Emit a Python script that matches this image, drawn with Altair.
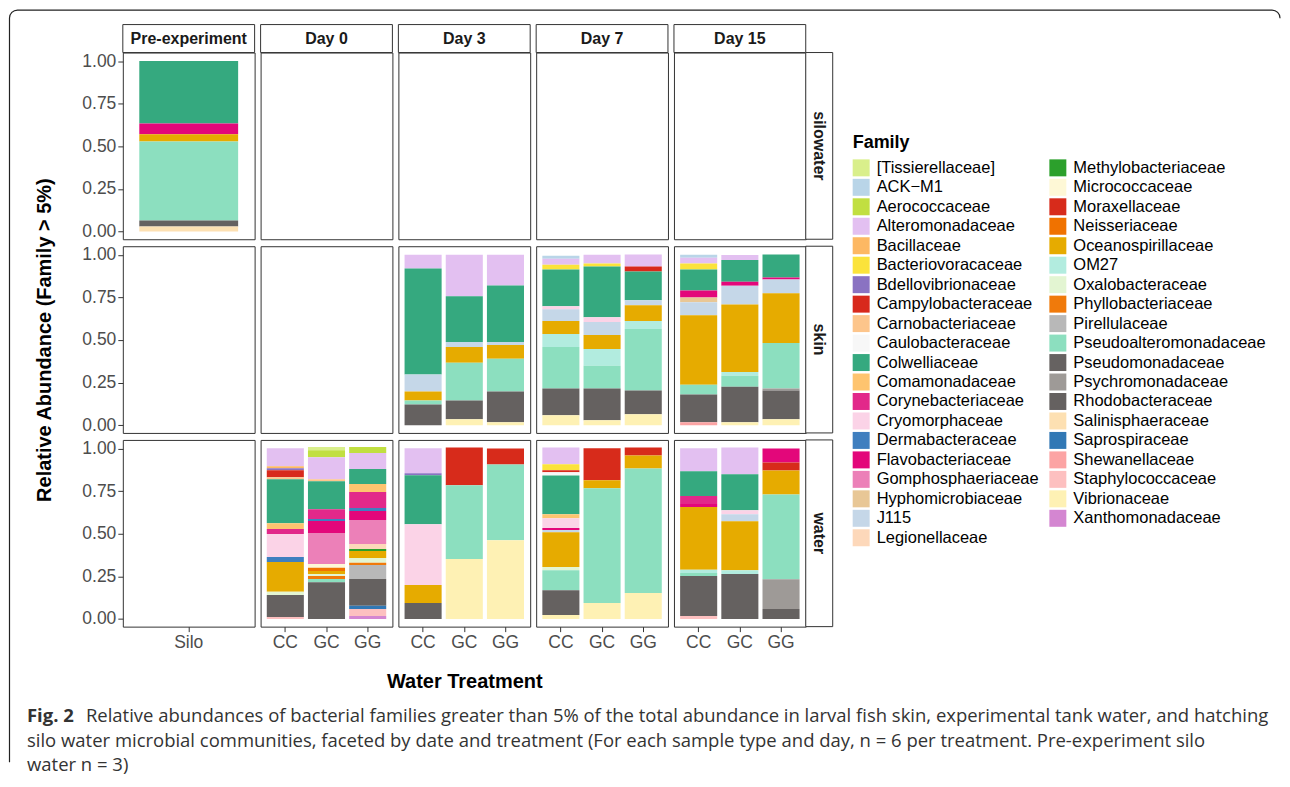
import altair as alt
import pandas as pd

# ---------------- data ----------------
FAMILIES = [
    "[Tissierellaceae]", "ACK−M1", "Aerococcaceae", "Alteromonadaceae", "Bacillaceae",
    "Bacteriovoracaceae", "Bdellovibrionaceae", "Campylobacteraceae", "Carnobacteriaceae",
    "Caulobacteraceae", "Colwelliaceae", "Comamonadaceae", "Corynebacteriaceae",
    "Cryomorphaceae", "Dermabacteraceae", "Flavobacteriaceae", "Gomphosphaeriaceae",
    "Hyphomicrobiaceae", "J115", "Legionellaceae",
    "Methylobacteriaceae", "Micrococcaceae", "Moraxellaceae", "Neisseriaceae",
    "Oceanospirillaceae", "OM27", "Oxalobacteraceae", "Phyllobacteriaceae", "Pirellulaceae",
    "Pseudoalteromonadaceae", "Pseudomonadaceae", "Psychromonadaceae", "Rhodobacteraceae",
    "Salinisphaeraceae", "Saprospiraceae", "Shewanellaceae", "Staphylococcaceae",
    "Vibrionaceae", "Xanthomonadaceae",
]
FAMILY_COLORS = [
    "#d9ef8b", "#b9d5e8", "#c1df41", "#e3c0f1", "#fdb863",
    "#fbe33b", "#8a72c2", "#d8291c", "#fdc58b",
    "#f7f7f7", "#35a97f", "#fec46f", "#e2288a",
    "#fbd3e7", "#3f7fbf", "#e3077a", "#ec80b8",
    "#e8c796", "#c5d7e8", "#fdd8ba",
    "#2ca02c", "#fef8d6", "#d72b1b", "#f07200",
    "#e6ab00", "#b2ecdf", "#e3f5d2", "#f07a0b", "#b8b8b8",
    "#8cdfbf", "#666261", "#9e9a97", "#656160",
    "#fde0b2", "#3178b5", "#fca4a4", "#fdc0c0",
    "#fef1b4", "#d486d1",
]
ROW_TYPES = ["silowater", "skin", "water"]
DAYS = ["Pre-experiment", "Day 0", "Day 3", "Day 7", "Day 15"]
TREAT_PRE = ["Silo"]
TREAT_EXP = ["CC", "GC", "GG"]
Y_TICKS = [0.0, 0.25, 0.5, 0.75, 1.0]

SILO_PRE = [("Colwelliaceae", 0.366), ("Flavobacteriaceae", 0.063), ("Oceanospirillaceae", 0.043),
            ("Pseudoalteromonadaceae", 0.463), ("Rhodobacteraceae", 0.036), ("Salinisphaeraceae", 0.029)]

SKIN_D3_CC = [("Alteromonadaceae", 0.081), ("Colwelliaceae", 0.622), ("J115", 0.099),
              ("Oceanospirillaceae", 0.053), ("Pseudoalteromonadaceae", 0.023), ("Rhodobacteraceae", 0.122)]
SKIN_D3_GC = [("Alteromonadaceae", 0.244), ("Colwelliaceae", 0.268), ("J115", 0.029),
              ("Oceanospirillaceae", 0.093), ("Pseudoalteromonadaceae", 0.221), ("Rhodobacteraceae", 0.110),
              ("Vibrionaceae", 0.035)]
SKIN_D3_GG = [("Alteromonadaceae", 0.180), ("Colwelliaceae", 0.332), ("J115", 0.017),
              ("Oceanospirillaceae", 0.081), ("Pseudoalteromonadaceae", 0.192), ("Rhodobacteraceae", 0.181),
              ("Vibrionaceae", 0.017)]
SKIN_D7_CC = [("ACK−M1", 0.017), ("Alteromonadaceae", 0.035), ("Bacteriovoracaceae", 0.029),
              ("Colwelliaceae", 0.215), ("Cryomorphaceae", 0.017), ("J115", 0.070),
              ("Oceanospirillaceae", 0.076), ("OM27", 0.076), ("Pseudoalteromonadaceae", 0.244),
              ("Rhodobacteraceae", 0.157), ("Vibrionaceae", 0.058)]
SKIN_D7_GC = [("Alteromonadaceae", 0.052), ("Bacteriovoracaceae", 0.017), ("Colwelliaceae", 0.297),
              ("Cryomorphaceae", 0.029), ("J115", 0.076), ("Oceanospirillaceae", 0.081), ("OM27", 0.099),
              ("Pseudoalteromonadaceae", 0.134), ("Rhodobacteraceae", 0.186), ("Vibrionaceae", 0.029)]
SKIN_D7_GG = [("Alteromonadaceae", 0.070), ("Campylobacteraceae", 0.029), ("Colwelliaceae", 0.169),
              ("J115", 0.029), ("Oceanospirillaceae", 0.093), ("OM27", 0.047),
              ("Pseudoalteromonadaceae", 0.360), ("Rhodobacteraceae", 0.140), ("Vibrionaceae", 0.064)]
SKIN_D15_CC = [("ACK−M1", 0.017), ("Alteromonadaceae", 0.035), ("Bacteriovoracaceae", 0.035),
               ("Colwelliaceae", 0.122), ("Flavobacteriaceae", 0.041), ("Hyphomicrobiaceae", 0.029),
               ("J115", 0.076), ("Oceanospirillaceae", 0.407), ("Pseudoalteromonadaceae", 0.058),
               ("Rhodobacteraceae", 0.163), ("Shewanellaceae", 0.017)]
SKIN_D15_GC = [("Alteromonadaceae", 0.029), ("Colwelliaceae", 0.128), ("Flavobacteriaceae", 0.023),
               ("J115", 0.110), ("Oceanospirillaceae", 0.395), ("OM27", 0.023),
               ("Pseudoalteromonadaceae", 0.064), ("Rhodobacteraceae", 0.209), ("Vibrionaceae", 0.017)]
SKIN_D15_GG = [("Colwelliaceae", 0.134), ("Flavobacteriaceae", 0.012), ("J115", 0.081),
               ("Oceanospirillaceae", 0.291), ("Pseudoalteromonadaceae", 0.267), ("Psychromonadaceae", 0.012),
               ("Rhodobacteraceae", 0.169), ("Vibrionaceae", 0.035)]

WATER_D0_CC = [("Alteromonadaceae", 0.105), ("Bacillaceae", 0.012), ("Bdellovibrionaceae", 0.012),
               ("Campylobacteraceae", 0.041), ("Carnobacteriaceae", 0.012), ("Colwelliaceae", 0.257),
               ("Comamonadaceae", 0.035), ("Corynebacteriaceae", 0.029), ("Cryomorphaceae", 0.135),
               ("Dermabacteraceae", 0.029), ("Oceanospirillaceae", 0.175), ("Oxalobacteraceae", 0.018),
               ("Rhodobacteraceae", 0.129), ("Staphylococcaceae", 0.012)]
WATER_D0_GC = [("[Tissierellaceae]", 0.018), ("Aerococcaceae", 0.041), ("Alteromonadaceae", 0.129),
               ("Carnobacteriaceae", 0.012), ("Colwelliaceae", 0.164), ("Corynebacteriaceae", 0.058),
               ("Dermabacteraceae", 0.012), ("Flavobacteriaceae", 0.070), ("Gomphosphaeriaceae", 0.181),
               ("Micrococcaceae", 0.023), ("Neisseriaceae", 0.018), ("Oceanospirillaceae", 0.018),
               ("Oxalobacteraceae", 0.012), ("Phyllobacteriaceae", 0.018), ("Pseudoalteromonadaceae", 0.018),
               ("Rhodobacteraceae", 0.216)]
WATER_D0_GG = [("Aerococcaceae", 0.035), ("Alteromonadaceae", 0.094), ("Colwelliaceae", 0.088),
               ("Comamonadaceae", 0.047), ("Corynebacteriaceae", 0.094), ("Dermabacteraceae", 0.018),
               ("Flavobacteriaceae", 0.053), ("Gomphosphaeriaceae", 0.140), ("Legionellaceae", 0.029),
               ("Methylobacteriaceae", 0.012), ("Oceanospirillaceae", 0.041), ("Oxalobacteraceae", 0.029),
               ("Phyllobacteriaceae", 0.012), ("Pirellulaceae", 0.082), ("Rhodobacteraceae", 0.158),
               ("Saprospiraceae", 0.018), ("Staphylococcaceae", 0.041), ("Xanthomonadaceae", 0.018)]
WATER_D3_CC = [("Alteromonadaceae", 0.146), ("Bdellovibrionaceae", 0.012), ("Colwelliaceae", 0.287),
               ("Cryomorphaceae", 0.357), ("Oceanospirillaceae", 0.105), ("Rhodobacteraceae", 0.094)]
WATER_D3_GC = [("Moraxellaceae", 0.222), ("Pseudoalteromonadaceae", 0.433), ("Vibrionaceae", 0.351)]
WATER_D3_GG = [("Moraxellaceae", 0.094), ("Pseudoalteromonadaceae", 0.444), ("Vibrionaceae", 0.462)]
WATER_D7_CC = [("Alteromonadaceae", 0.099), ("Bacteriovoracaceae", 0.035), ("Campylobacteraceae", 0.012),
               ("Caulobacteraceae", 0.018), ("Colwelliaceae", 0.228), ("Comamonadaceae", 0.023),
               ("Cryomorphaceae", 0.058), ("Flavobacteriaceae", 0.012), ("J115", 0.012),
               ("Oceanospirillaceae", 0.205), ("Oxalobacteraceae", 0.018), ("Pseudoalteromonadaceae", 0.117),
               ("Rhodobacteraceae", 0.146), ("Vibrionaceae", 0.023)]
WATER_D7_GC = [("Moraxellaceae", 0.187), ("Oceanospirillaceae", 0.047), ("Pseudoalteromonadaceae", 0.673),
               ("Vibrionaceae", 0.094)]
WATER_D7_GG = [("Moraxellaceae", 0.047), ("Oceanospirillaceae", 0.076), ("Pseudoalteromonadaceae", 0.731),
               ("Vibrionaceae", 0.152)]
WATER_D15_CC = [("Alteromonadaceae", 0.134), ("Colwelliaceae", 0.146), ("Corynebacteriaceae", 0.047),
                ("Flavobacteriaceae", 0.018), ("Oceanospirillaceae", 0.368), ("OM27", 0.018),
                ("Pseudoalteromonadaceae", 0.018), ("Rhodobacteraceae", 0.234), ("Staphylococcaceae", 0.018)]
WATER_D15_GC = [("Alteromonadaceae", 0.158), ("Colwelliaceae", 0.211), ("Cryomorphaceae", 0.023),
                ("J115", 0.041), ("Oceanospirillaceae", 0.287), ("OM27", 0.023), ("Rhodobacteraceae", 0.263)]
WATER_D15_GG = [("Flavobacteriaceae", 0.082), ("Moraxellaceae", 0.047), ("Oceanospirillaceae", 0.140),
                ("Pseudoalteromonadaceae", 0.497), ("Psychromonadaceae", 0.175), ("Rhodobacteraceae", 0.058)]

BARS = [
    ("silowater", "Pre-experiment", "Silo", SILO_PRE),
    ("skin", "Day 3", "CC", SKIN_D3_CC), ("skin", "Day 3", "GC", SKIN_D3_GC), ("skin", "Day 3", "GG", SKIN_D3_GG),
    ("skin", "Day 7", "CC", SKIN_D7_CC), ("skin", "Day 7", "GC", SKIN_D7_GC), ("skin", "Day 7", "GG", SKIN_D7_GG),
    ("skin", "Day 15", "CC", SKIN_D15_CC), ("skin", "Day 15", "GC", SKIN_D15_GC), ("skin", "Day 15", "GG", SKIN_D15_GG),
    ("water", "Day 0", "CC", WATER_D0_CC), ("water", "Day 0", "GC", WATER_D0_GC), ("water", "Day 0", "GG", WATER_D0_GG),
    ("water", "Day 3", "CC", WATER_D3_CC), ("water", "Day 3", "GC", WATER_D3_GC), ("water", "Day 3", "GG", WATER_D3_GG),
    ("water", "Day 7", "CC", WATER_D7_CC), ("water", "Day 7", "GC", WATER_D7_GC), ("water", "Day 7", "GG", WATER_D7_GG),
    ("water", "Day 15", "CC", WATER_D15_CC), ("water", "Day 15", "GC", WATER_D15_GC), ("water", "Day 15", "GG", WATER_D15_GG),
]

CAPTION_BOLD = "Fig. 2"
CAPTION_LINE1 = ("Relative abundances of bacterial families greater than 5% of the total abundance in larval fish "
                 "skin, experimental tank water, and hatching")
CAPTION_LINE2 = ("silo water microbial communities, faceted by date and treatment (For each sample type and day, "
                 "n = 6 per treatment. Pre-experiment silo")
CAPTION_LINE3 = "water n = 3)"

# ---------------- table ----------------
rows = []
for t, d, trt, segs in BARS:
    for fam, v in segs:
        rows.append({"type": t, "day": d, "trt": trt, "family": fam, "value": v,
                     "order": FAMILIES.index(fam)})
df = pd.DataFrame(rows)

FONT = "Liberation Sans"
CAP_FONT = "Open Sans"
CAP_SIZE = 18.5
PW, PH = 132, 187
SH, RW = 28, 27
GAP_R, GAP_C = 7, 6
Y_DOMAIN = [-0.045, 1.05]

COLOR_SCALE = alt.Scale(domain=FAMILIES, range=FAMILY_COLORS)
LEGEND = alt.Legend(
    title="Family", orient="none", legendX=731, legendY=82, columns=2, symbolLimit=0,
    symbolType="square", symbolSize=289, symbolStrokeWidth=0, symbolOpacity=1,
    labelFont=FONT, labelFontSize=16.5, labelColor="black", labelLimit=400, labelOffset=7,
    titleFont=FONT, titleFontSize=18, titleFontWeight="bold", titleColor="black", titlePadding=7,
    rowPadding=2.5, columnPadding=10, padding=0, offset=0,
)


def cell(r, c):
    t, d = ROW_TYPES[r], DAYS[c]
    dom = TREAT_PRE if c == 0 else TREAT_EXP
    sub = df[(df["type"] == t) & (df["day"] == d)]
    if r == 2:
        xaxis = alt.Axis(labelAngle=0, labelFont=FONT, labelFontSize=17.5, labelColor="#4d4d4d",
                         tickSize=5, tickColor="#333333", labelPadding=2, domain=False,
                         title=("Water Treatment" if c == 2 else None), titleFont=FONT,
                         titleFontSize=20, titleFontWeight="bold", titleColor="black", titlePadding=20)
    else:
        xaxis = None
    if c == 0:
        yaxis = alt.Axis(values=Y_TICKS, format=".2f", labelFont=FONT, labelFontSize=17.5,
                         labelColor="#4d4d4d", tickSize=5, tickColor="#333333", labelPadding=2,
                         domain=False, grid=False,
                         title=("Relative Abundance (Family > 5%)" if r == 1 else None),
                         titleFont=FONT, titleFontSize=20, titleFontWeight="bold",
                         titleColor="black", titlePadding=27)
    else:
        yaxis = None
    bars = alt.Chart(sub).mark_bar().encode(
        x=alt.X("trt:N", scale=alt.Scale(domain=dom, paddingInner=0.1, paddingOuter=0.15), axis=xaxis),
        y=alt.Y("value:Q", stack="zero", scale=alt.Scale(domain=Y_DOMAIN, nice=False, zero=False), axis=yaxis),
        color=alt.Color("family:N", scale=COLOR_SCALE, legend=LEGEND),
        order=alt.Order("order:Q", sort="descending"),
    )
    layers = [bars]
    if r == 0:
        sd = pd.DataFrame({"lab": [d]})
        layers.append(alt.Chart(sd).mark_rect(fill="white", stroke="#333333", strokeWidth=1).encode(
            x=alt.value(0), x2=alt.value(PW), y=alt.value(-SH), y2=alt.value(0)))
        layers.append(alt.Chart(sd).mark_text(font=FONT, fontSize=16, fontWeight="bold", color="#1a1a1a",
                                             baseline="middle").encode(
            text="lab:N", x=alt.value(PW / 2), y=alt.value(-SH / 2)))
    if c == 4:
        rd = pd.DataFrame({"lab": [t]})
        layers.append(alt.Chart(rd).mark_rect(fill="white", stroke="#333333", strokeWidth=1).encode(
            x=alt.value(PW), x2=alt.value(PW + RW), y=alt.value(0), y2=alt.value(PH)))
        layers.append(alt.Chart(rd).mark_text(font=FONT, fontSize=16, fontWeight="bold", color="#1a1a1a",
                                             angle=90, baseline="middle").encode(
            text="lab:N", x=alt.value(PW + RW / 2), y=alt.value(PH / 2)))
    if r == 2 and c == 0:
        # this cell sits two rows below the grid origin
        oy = 2 * (PH + GAP_R)
        # outer rounded frame (only top and left edges visible) and the caption
        fx, fy, fx2, fy2, rad = -113.5, -42.5 - oy, 1159, 719 - oy, 8
        W, H = fx2 - fx, fy2 - fy
        q = 1.5708 * rad
        dash = [W - 2 * rad + q, (H - 2 * rad + q) + (W - 2 * rad + q), H - 2 * rad + q + 40]
        fd = pd.DataFrame({"k": [0]})
        layers.append(alt.Chart(fd).mark_rect(fill="transparent", stroke="#222222", strokeWidth=1.2,
                                             cornerRadius=rad, strokeDash=dash).encode(
            x=alt.value(fx), x2=alt.value(fx2), y=alt.value(fy), y2=alt.value(fy2)))
        cap = [(CAPTION_BOLD, -96, 665 - oy, "bold"), (CAPTION_LINE1, -37, 665 - oy, "normal"),
               (CAPTION_LINE2, -96, 690 - oy, "normal"), (CAPTION_LINE3, -96, 714 - oy, "normal")]
        for txt, cx, cy, wt in cap:
            layers.append(alt.Chart(pd.DataFrame({"txt": [txt]})).mark_text(
                font=CAP_FONT, fontSize=CAP_SIZE, fontWeight=wt, color="#333333", align="left",
                baseline="middle").encode(text="txt:N", x=alt.value(cx), y=alt.value(cy)))
    return alt.layer(*layers).properties(width=PW, height=PH)


cells = [cell(r, c) for r in range(3) for c in range(5)]

chart = alt.concat(*cells, columns=5, spacing={"row": GAP_R, "column": GAP_C}, bounds="flush").properties(
    padding=0, background="white"
).configure_view(stroke="#333333", strokeWidth=1)

chart.save("out.html", embed_options={"renderer": "svg", "actions": False})
